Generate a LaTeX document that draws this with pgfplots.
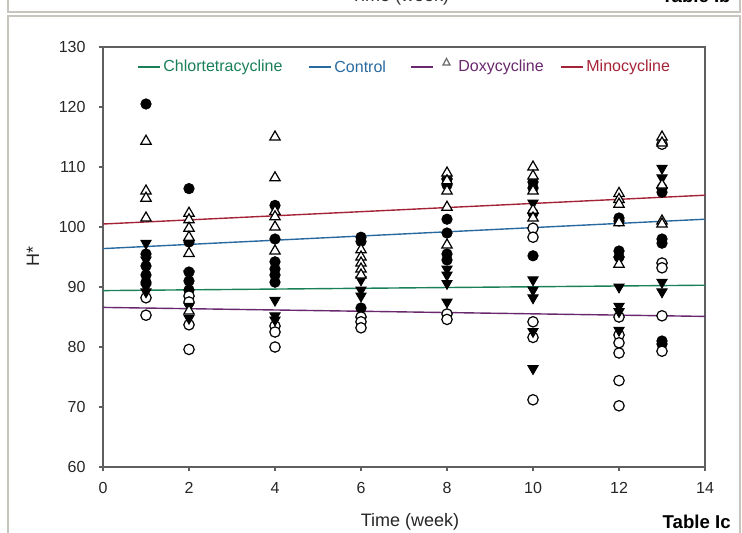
\documentclass[border=0pt]{standalone}
\usepackage{pgfplots}
\pgfplotsset{compat=1.18}
\usepackage{fontspec}
\setmainfont{Liberation Sans}

\definecolor{chlor}{RGB}{25,128,88}
\definecolor{ctrl}{RGB}{40,105,160}
\definecolor{doxy}{RGB}{105,40,110}
\definecolor{mino}{RGB}{165,35,55}
\definecolor{framegray}{RGB}{200,196,190}
\definecolor{axgray}{RGB}{95,95,95}

\begin{document}
\begin{tikzpicture}
\path[use as bounding box] (0,0) rectangle (371pt,-266.5pt);
\begin{axis}[
    at={(51.5pt,-233.5pt)}, anchor=south west,
    scale only axis, width=301pt, height=210pt,
    xmin=0, xmax=14, ymin=60, ymax=130,
    xtick={0,2,...,14}, ytick={60,70,...,130},
    xtick pos=bottom, ytick pos=left,
    tick align=outside, major tick length=2.2pt,
    axis line style={axgray, line width=0.7pt},
    every tick/.style={axgray, line width=0.6pt},
    tick label style={font=\fontsize{8}{9}\selectfont, text=black!85},
    /pgf/number format/assume math mode=true,
    xticklabel style={yshift=-2pt},
    yticklabel style={xshift=-3pt},
    clip=false,
  ]
  % fitted lines
  \addplot[chlor, line width=0.7pt] coordinates {(0,89.4) (14,90.3)};
  \addplot[ctrl, line width=0.7pt] coordinates {(0,96.4) (14,101.3)};
  \addplot[doxy, line width=0.7pt] coordinates {(0,86.6) (14,85.1)};
  \addplot[mino, line width=0.7pt] coordinates {(0,100.5) (14,105.3)};

  % filled circles
  \addplot[only marks, mark=*, mark size=2.6pt, mark options={draw=black, fill=black}] coordinates {
    (1,120.5) (1,95.5) (1,93.5) (1,92) (1,90.8)
    (2,106.4) (2,97.5) (2,92.5) (2,91) (2,89.5)
    (4,103.6) (4,98) (4,94.2) (4,93) (4,92) (4,90.8)
    (6,98.3) (6,97.6) (6,86.5)
    (8,108) (8,107) (8,101.3) (8,99) (8,95.5) (8,94.5)
    (10,107.5) (10,106.5) (10,102.3) (10,95.2)
    (12,101.5) (12,101) (12,96) (12,95)
    (13,106.5) (13,105.8) (13,98) (13,97.3) (13,81) (13,80.5)
  };
  % open circles
  \addplot[only marks, mark=*, mark size=2.6pt, mark options={draw=black, fill=white, line width=0.6pt}] coordinates {
    (1,88.2) (1,85.3)
    (2,88.5) (2,87.5) (2,83.7) (2,79.6)
    (4,83.5) (4,82.5) (4,80)
    (6,85) (6,84.2) (6,83.2)
    (8,85.5) (8,84.6)
    (10,99.8) (10,98.3) (10,84.2) (10,81.6) (10,71.2)
    (12,85) (12,82) (12,80.7) (12,79) (12,74.4) (12,70.2)
    (13,113.8) (13,94) (13,93.2) (13,85.2) (13,79.3)
  };
  % filled triangles (down)
  \addplot[only marks, mark=triangle*, mark size=3pt, mark options={draw=black, fill=black, rotate=180}] coordinates {
    (1,97.3) (1,94.5) (1,90) (1,89.2)
    (2,92.2) (2,86.8) (2,84.8)
    (4,87.8) (4,85.2) (4,84.5)
    (6,91.2) (6,89.5) (6,88.5)
    (8,107.5) (8,93) (8,92) (8,90.6) (8,87.5)
    (10,104) (10,91.2) (10,89.5) (10,88.2) (10,82.6) (10,76.4)
    (12,94.5) (12,90) (12,86.8) (12,85.9) (12,82.8)
    (13,109.8) (13,108.2) (13,106) (13,90.8) (13,89.2)
  };
  % open triangles (up)
  \addplot[only marks, mark=triangle*, mark size=3pt, mark options={draw=black, fill=white, line width=0.6pt}] coordinates {
    (1,114.3) (1,106) (1,104.8) (1,101.5)
    (2,102.3) (2,101.2) (2,99.8) (2,98.3) (2,95.6) (2,86)
    (4,115) (4,108.2) (4,102.6) (4,101.7) (4,100) (4,96)
    (6,96.2) (6,95) (6,94) (6,93) (6,92)
    (8,109) (8,107.7) (8,106) (8,103.3) (8,97)
    (10,110) (10,108.5) (10,106) (10,102.8) (10,101.5)
    (12,105.6) (12,104.6) (12,103.8) (12,100.7) (12,93.8)
    (13,115) (13,114) (13,107) (13,101) (13,100.5)
  };
\end{axis}

\begin{scope}[x=0.5pt, y=-0.5pt]
  % frames
  \draw[framegray, line width=0.8pt] (8,-20) -- (8,12) -- (740,12) -- (740,-20);
  \draw[framegray, line width=0.8pt] (8,545) -- (8,16) -- (740,16) -- (740,545);
  \node[anchor=base, font=\fontsize{9}{10}\selectfont, text=black!80] at (400,2) {Time (week)};
  \node[anchor=base east, font=\bfseries\fontsize{9.3}{10}\selectfont, inner sep=0pt] at (731,3) {Table Ib};
  % axis titles
  \node[font=\fontsize{9}{10}\selectfont, text=black!85] at (410,522) {Time (week)};
  \node[rotate=90, font=\fontsize{9}{10}\selectfont, text=black!85] at (33,256) {H*};
  \node[anchor=base east, font=\bfseries\fontsize{9.3}{10}\selectfont, inner sep=0pt] at (731,528) {Table Ic};
  % legend
  \tikzset{legtext/.style={anchor=west, inner sep=0pt, font=\fontsize{8}{9}\selectfont}}
  \draw[chlor, line width=1.4pt] (138,67) -- (160,67);
  \node[legtext, text=chlor] at (163,67) {Chlortetracycline};
  \draw[ctrl, line width=1.4pt] (309,67) -- (331,67);
  \node[legtext, text=ctrl] at (334,67) {Control};
  \draw[doxy, line width=1.4pt] (411,67) -- (433,67);
  \draw[black!60, line width=0.6pt, fill=white] (443,65) -- (450,65) -- (446.5,58.5) -- cycle;
  \node[legtext, text=doxy] at (458,67) {Doxycycline};
  \draw[mino, line width=1.4pt] (561,67) -- (583,67);
  \node[legtext, text=mino] at (586,67) {Minocycline};
\end{scope}
\end{tikzpicture}
\end{document}
